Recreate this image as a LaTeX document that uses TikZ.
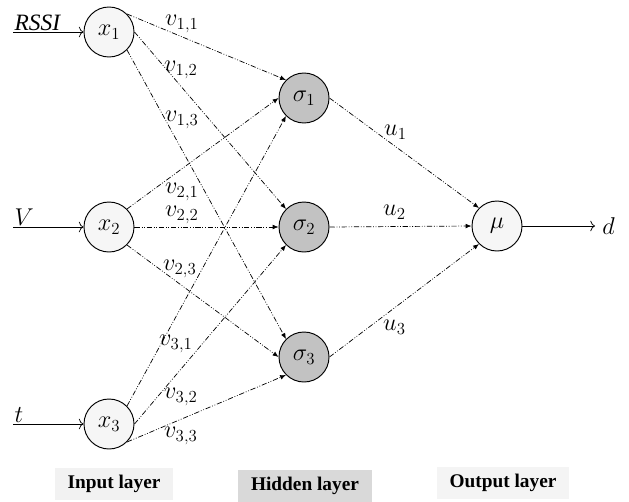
\documentclass[tikz,border=0pt]{standalone}
\usepackage{fontspec}
\setmainfont{Liberation Serif}
\usetikzlibrary{arrows.meta}
\tikzset{
  neuron/.style={circle, draw, line width=0.8pt, minimum size=1.5cm, inner sep=0pt,
    font=\fontsize{20}{22}\selectfont},
  innode/.style={neuron, fill=gray!7},
  hidnode/.style={neuron, fill=gray!48},
  weight/.style={-{Latex[length=5pt,width=4pt]}, line width=0.6pt,
    dash pattern=on 4.5pt off 1.5pt on 0.7pt off 1.5pt on 0.7pt off 1.5pt},
  feed/.style={-{To[length=4pt,width=9pt]}, line width=0.6pt},
  wlabel/.style={inner sep=0pt, anchor=west, font=\fontsize{20}{22}\selectfont},
  layer/.style={inner sep=0pt, minimum height=0.94cm, font=\bfseries\fontsize{16.5}{18}\selectfont},
}

\begin{document}
\begin{tikzpicture}[x=0.03cm, y=-0.03cm]
    \useasboundingbox (0,0) rectangle (629,501);

    % neurons
    \node[innode] (x1) at (109,32) {$x_1$};
    \node[innode] (x2) at (109,227) {$x_2$};
    \node[innode] (x3) at (109,424) {$x_3$};
    \node[hidnode] (s1) at (304,98) {$\sigma_1$};
    \node[hidnode] (s2) at (304,227) {$\sigma_2$};
    \node[hidnode] (s3) at (304,357) {$\sigma_3$};
    \node[innode] (mu) at (497,226) {$\mu$};

    % inputs and output
    \coordinate (rssi) at (13,32);
    \coordinate (vin) at (13,227);
    \coordinate (tin) at (13,424);
    \coordinate (dout) at (595,226);
    \draw[feed] (rssi) -- node[wlabel, pos=0, anchor=south west, inner sep=1pt] {\textit{RSSI}} (x1);
    \draw[feed] (vin) -- node[wlabel, pos=0, anchor=south west, inner sep=1pt] {$V$} (x2);
    \draw[feed] (tin) -- node[wlabel, pos=0, anchor=south west, inner sep=1pt] {$t$} (x3);
    \draw[feed] (mu) -- (dout) node[wlabel, xshift=6pt] {$d$};

    % input -> hidden
    \draw[weight] (x1.north east) -- (s1.north west);
    \draw[weight] (x1.east) -- (s2.north west);
    \draw[weight] (x1.south east) -- (s3.north west);
    \draw[weight] (x2.north east) -- (s1.west);
    \draw[weight] (x2.east) -- (s2.west);
    \draw[weight] (x2.south east) -- (s3.west);
    \draw[weight] (x3.north east) -- (s1.south west);
    \draw[weight] (x3.east) -- (s2.south west);
    \draw[weight] (x3.south east) -- (s3.south west);

    % hidden -> output
    \draw[weight] (s1.east) -- (mu.north west);
    \draw[weight] (s2.east) -- (mu.west);
    \draw[weight] (s3.east) -- (mu.south west);

    % weights
    \node[wlabel] (v11) at (165,24) {$v_{1,1}$};
    \node[wlabel] (v12) at (164,70) {$v_{1,2}$};
    \node[wlabel] (v13) at (165,120) {$v_{1,3}$};
    \node[wlabel] (v21) at (165,192) {$v_{2,1}$};
    \node[wlabel] (v22) at (165,215) {$v_{2,2}$};
    \node[wlabel] (v23) at (163,269) {$v_{2,3}$};
    \node[wlabel] (v31) at (159,344) {$v_{3,1}$};
    \node[wlabel] (v32) at (164,397) {$v_{3,2}$};
    \node[wlabel] (v33) at (164,436) {$v_{3,3}$};
    \node[wlabel] (u1) at (384,132) {$u_1$};
    \node[wlabel] (u2) at (383,212) {$u_2$};
    \node[wlabel] (u3) at (383,327) {$u_3$};

    % layer captions
    \node[layer, fill=gray!10, minimum width=3.54cm] (inlayer) at (114,484) {Input layer};
    \node[layer, fill=gray!30, minimum width=4.02cm] (hidlayer) at (305,486) {Hidden layer};
    \node[layer, fill=gray!9, minimum width=3.96cm] (outlayer) at (503,483) {Output layer};
\end{tikzpicture}
\end{document}
